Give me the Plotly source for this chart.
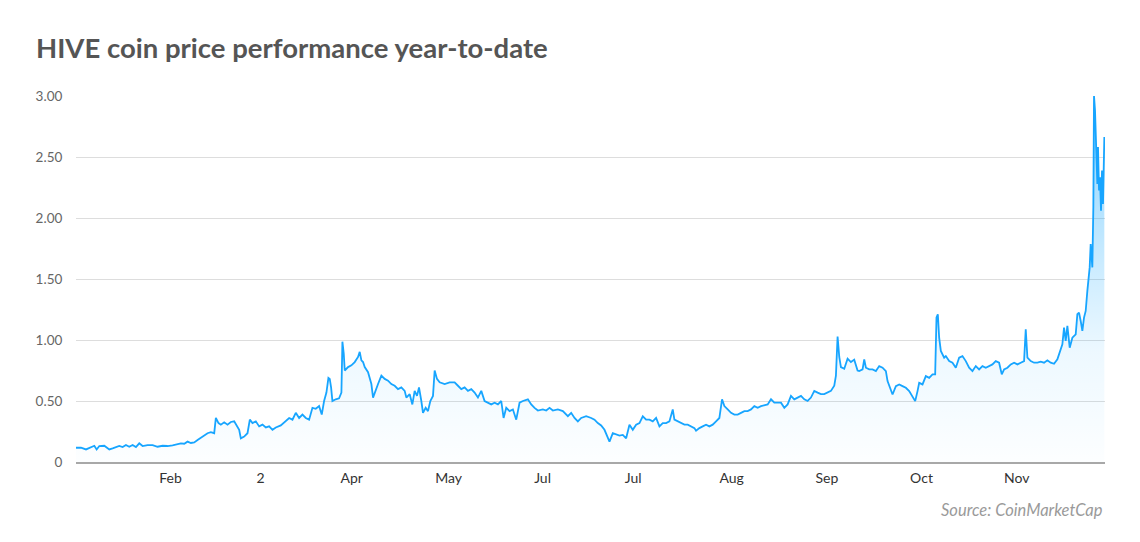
import plotly.graph_objects as go

# Time position of each sample (uniform time units along the year) and HIVE price (USD)
t = [0, 15, 30, 45, 55, 62, 70, 85, 95, 100, 110, 120, 130, 140, 150, 160, 170, 180, 190, 200,
     215, 230, 245, 260, 275, 290, 305, 315, 325, 335, 345, 355, 365, 375, 385, 395, 405, 415, 420, 428,
     435, 445, 455, 465, 475, 485, 490, 495, 505, 515, 522, 530, 540, 550, 560, 570, 580, 590, 600, 615,
     630, 640, 650, 660, 670, 680, 690, 700, 710, 720, 730, 738, 745, 752, 758, 762, 766, 770, 780, 790,
     797,
     800, 804, 807, 817, 827, 837, 847, 852, 857, 862, 867, 877, 887, 892, 897, 907, 917, 927, 937, 947,
     957, 967, 977, 987, 992, 1002, 1010, 1017, 1024, 1030, 1037, 1042, 1050, 1057, 1064, 1072, 1077, 1084, 1092, 1107,
     1122, 1137, 1147, 1157, 1167, 1177, 1187, 1197, 1207, 1217, 1227, 1237, 1247, 1257, 1267, 1277, 1284, 1292, 1302, 1312,
     1322, 1332, 1342, 1357, 1367, 1377, 1387, 1402, 1412, 1422, 1432, 1447, 1462, 1477, 1487, 1497, 1507, 1517, 1532, 1547,
     1557, 1567, 1577, 1587, 1597,
     1602, 1612, 1622, 1632, 1642, 1652, 1662, 1672, 1682, 1692, 1702, 1712, 1722, 1732, 1742, 1752, 1762, 1772, 1782, 1792,
     1797, 1807, 1817, 1827, 1837, 1847, 1857, 1862, 1872, 1882, 1892, 1902, 1912, 1922, 1932, 1940, 1947, 1957, 1967, 1977,
     1987, 1997, 2007, 2017, 2027, 2037, 2047, 2057, 2067, 2077, 2087, 2097, 2107, 2117, 2127, 2137, 2147, 2157, 2167, 2177,
     2187, 2197, 2207, 2217, 2227, 2237, 2247, 2257, 2267, 2277, 2282, 2287, 2292, 2297, 2307, 2317, 2327, 2337, 2347,
     2352, 2362, 2367, 2372, 2382, 2392, 2402, 2412, 2422, 2432, 2437, 2442, 2452, 2462, 2472, 2482, 2492, 2502, 2512, 2520,
     2527, 2532, 2542, 2552, 2562, 2572, 2580, 2584, 2588, 2592, 2597, 2607, 2612, 2622, 2632, 2642, 2652, 2662, 2672, 2682,
     2692, 2702, 2712, 2722, 2732, 2742, 2752, 2762, 2772, 2780, 2787, 2797, 2807, 2817, 2827, 2837, 2847, 2852, 2857, 2867,
     2877, 2887, 2897, 2907, 2917, 2927, 2937, 2947, 2957, 2962, 2967, 2972, 2977, 2984, 2992, 3002, 3007, 3012, 3017, 3022,
     3027, 3032, 3037, 3040, 3044, 3047, 3052, 3055, 3057, 3060, 3064, 3067, 3069, 3072, 3075, 3078, 3081, 3084, 3088]

price = [0.117, 0.117, 0.103, 0.119, 0.133, 0.103, 0.131, 0.133, 0.117, 0.103, 0.111, 0.119, 0.131, 0.122, 0.139, 0.125, 0.139, 0.122, 0.153, 0.131,
         0.139, 0.139, 0.125, 0.133, 0.131, 0.136, 0.144, 0.153, 0.150, 0.167, 0.156, 0.161, 0.181, 0.200, 0.222, 0.236, 0.244, 0.236, 0.361, 0.319,
         0.306, 0.325, 0.306, 0.328, 0.333, 0.292, 0.264, 0.194, 0.208, 0.236, 0.347, 0.319, 0.333, 0.292, 0.306, 0.283, 0.292, 0.264, 0.283, 0.300,
         0.333, 0.361, 0.347, 0.403, 0.361, 0.389, 0.361, 0.347, 0.444, 0.436, 0.458, 0.389, 0.500, 0.569, 0.689, 0.681, 0.611, 0.500, 0.514, 0.522,
         0.569,
         0.986, 0.889, 0.750, 0.778, 0.792, 0.819, 0.861, 0.903, 0.833, 0.819, 0.778, 0.736, 0.639, 0.528, 0.569, 0.639, 0.708, 0.681, 0.667, 0.639,
         0.625, 0.597, 0.611, 0.583, 0.528, 0.556, 0.472, 0.583, 0.542, 0.611, 0.500, 0.403, 0.444, 0.417, 0.500, 0.542, 0.750, 0.681, 0.653, 0.639,
         0.653, 0.653, 0.625, 0.597, 0.611, 0.583, 0.597, 0.569, 0.528, 0.583, 0.500, 0.486, 0.472, 0.486, 0.472, 0.500, 0.361, 0.444, 0.417, 0.431,
         0.347, 0.486, 0.500, 0.514, 0.472, 0.444, 0.422, 0.431, 0.422, 0.444, 0.422, 0.431, 0.417, 0.375, 0.403, 0.361, 0.333, 0.361, 0.375, 0.361,
         0.347, 0.319, 0.300, 0.264, 0.208,
         0.167, 0.236, 0.228, 0.217, 0.222, 0.194, 0.306, 0.264, 0.306, 0.319, 0.375, 0.347, 0.347, 0.333, 0.361, 0.292, 0.319, 0.319, 0.333, 0.431,
         0.347, 0.333, 0.319, 0.306, 0.306, 0.292, 0.278, 0.256, 0.278, 0.292, 0.306, 0.292, 0.306, 0.333, 0.361, 0.514, 0.458, 0.431, 0.403, 0.389,
         0.389, 0.403, 0.417, 0.417, 0.431, 0.458, 0.444, 0.458, 0.467, 0.472, 0.514, 0.486, 0.486, 0.486, 0.444, 0.472, 0.542, 0.514, 0.528, 0.542,
         0.514, 0.500, 0.528, 0.583, 0.569, 0.556, 0.556, 0.569, 0.583, 0.625, 0.708, 1.028, 0.861, 0.778, 0.764, 0.847, 0.819, 0.839, 0.750,
         0.745, 0.759, 0.841, 0.773, 0.759, 0.759, 0.745, 0.786, 0.773, 0.745, 0.663, 0.622, 0.553, 0.622, 0.636, 0.622, 0.608, 0.581, 0.540, 0.499,
         0.581, 0.649, 0.636, 0.704, 0.690, 0.718, 0.718, 1.184, 1.211, 1.019, 0.910, 0.855, 0.868, 0.827, 0.814, 0.773, 0.855, 0.868, 0.827, 0.773,
         0.745, 0.786, 0.759, 0.786, 0.773, 0.786, 0.800, 0.827, 0.814, 0.718, 0.759, 0.773, 0.800, 0.814, 0.800, 0.814, 0.827, 1.088, 0.855, 0.827,
         0.814, 0.814, 0.822, 0.814, 0.833, 0.814, 0.805, 0.841, 0.937, 0.964, 1.101, 0.992, 1.115, 0.937, 1.019, 1.047, 1.211, 1.225, 1.156, 1.074,
         1.184, 1.238, 1.403, 1.485, 1.595, 1.786, 1.595, 2.088, 3.000, 2.882, 2.499, 2.279, 2.581, 2.225, 2.334, 2.060, 2.389, 2.115, 2.663]

x_tick_pos = [284, 554, 828, 1119, 1401, 1673, 1969, 2255, 2539, 2825]
x_tick_labels = ["Feb", "2", "Apr", "May", "Jul", "Jul", "Aug", "Sep", "Oct", "Nov"]
y_tick_vals = [0, 0.5, 1.0, 1.5, 2.0, 2.5, 3.0]
y_tick_labels = ["0", "0.50", "1.00", "1.50", "2.00", "2.50", "3.00"]

title_text = "HIVE coin price performance year-to-date"
source_text = "Source: CoinMarketCap"

# the page adds an 8px body margin, so the figure is sized to fit inside it
W, H = 1132, 534

fig = go.Figure()
fig.add_trace(go.Scatter(
    x=t, y=price, mode="lines",
    line=dict(color="#17a5ff", width=1.8),
    fill="tozeroy",
    fillgradient=dict(
        type="vertical",
        start=0, stop=3,
        colorscale=[[0, "rgba(0,160,255,0.01)"], [0.3, "rgba(0,160,255,0.07)"],
                    [0.6, "rgba(0,160,255,0.24)"], [1, "rgba(0,160,255,0.48)"]],
    ),
    hoverinfo="skip",
    showlegend=False,
))

fig.update_layout(
    width=W, height=H,
    margin=dict(l=68, r=35, t=88, b=80),
    paper_bgcolor="white", plot_bgcolor="white",
    font=dict(family="Lato, sans-serif", color="#555"),
    title=dict(text="<b>" + title_text + "</b>", xref="container", yref="container",
               x=28 / W, y=1 - 40 / H, xanchor="left", yanchor="middle",
               font=dict(family="Lato, sans-serif", size=27.5, color="#555555")),
    xaxis=dict(range=[0, 3090], tickvals=x_tick_pos, ticktext=x_tick_labels,
               showgrid=False, zeroline=False, showline=True, linecolor="#a8a8a8", linewidth=2,
               ticks="outside", ticklen=2, tickcolor="rgba(0,0,0,0)",
               tickfont=dict(family="Lato, sans-serif", size=14, color="#333333")),
    yaxis=dict(range=[0, 3.0], tickvals=y_tick_vals, ticktext=y_tick_labels,
               showgrid=True, gridcolor="#dddddd", gridwidth=1, zeroline=False, showline=False,
               ticks="outside", ticklen=10, tickcolor="rgba(0,0,0,0)",
               tickfont=dict(family="Lato, sans-serif", size=13.5, color="#666666")),
    annotations=[dict(text="<i>" + source_text + "</i>", xref="paper", yref="paper",
                      x=1.0, y=(462 - 510) / 366, xanchor="right", yanchor="middle", showarrow=False,
                      font=dict(family="Lato, sans-serif", size=16.5, color="#9a9a9a"))],
)

fig.write_html("out.html")
